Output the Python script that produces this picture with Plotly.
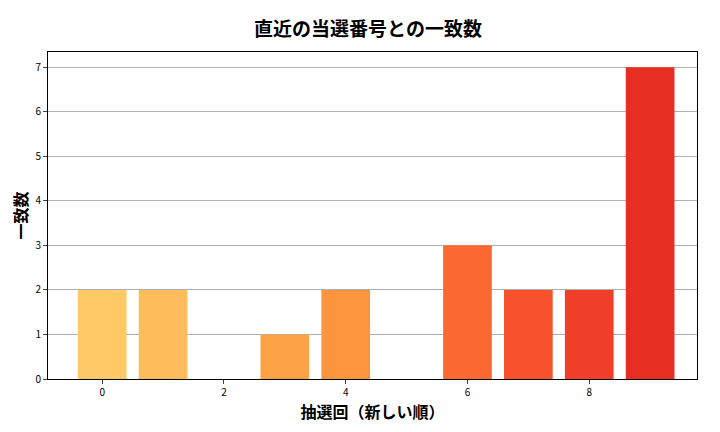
import plotly.graph_objects as go

draws = [0, 1, 2, 3, 4, 5, 6, 7, 8, 9]
matches = [2, 2, 0, 1, 2, 0, 3, 2, 2, 7]
colors = ['#FFC966', '#FEBD5A', '#FDAF50', '#FDA245', '#FD953F', '#FC8038',
          '#FC6832', '#F8522D', '#F03F29', '#E62E23']

font = "Noto Sans CJK JP"

fig = go.Figure(go.Bar(x=draws, y=matches, marker_color=colors, marker_line_width=0, width=0.8))

fig.update_layout(
    width=720, height=432,
    margin=dict(l=40, r=31, t=44, b=61),
    plot_bgcolor='white', paper_bgcolor='white',
    font=dict(family=font, color='black'),
    title=dict(text='<b>直近の当選番号との一致数</b>', x=0.5, xanchor='center', y=0.965,
               font=dict(size=19, family=font)),
    showlegend=False,
)
fig.update_xaxes(
    range=[-0.89, 9.77], tickvals=[0, 2, 4, 6, 8], showgrid=False, automargin=False,
    showline=True, linecolor='black', linewidth=1, mirror=True,
    ticks='outside', ticklen=4, tickfont=dict(size=10),
    title=dict(text='<b>抽選回（新しい順）</b>', font=dict(size=16), standoff=6),
)
fig.update_yaxes(
    range=[0, 7.34], dtick=1, showgrid=True, gridcolor='#b0b0b0', gridwidth=1,
    showline=True, linecolor='black', linewidth=1, mirror=True, zeroline=False,
    ticks='outside', ticklen=4, tickfont=dict(size=10), automargin=False,
    title=dict(text='<b>一致数</b>', font=dict(size=16), standoff=6),
)

fig.write_html("out.html")
